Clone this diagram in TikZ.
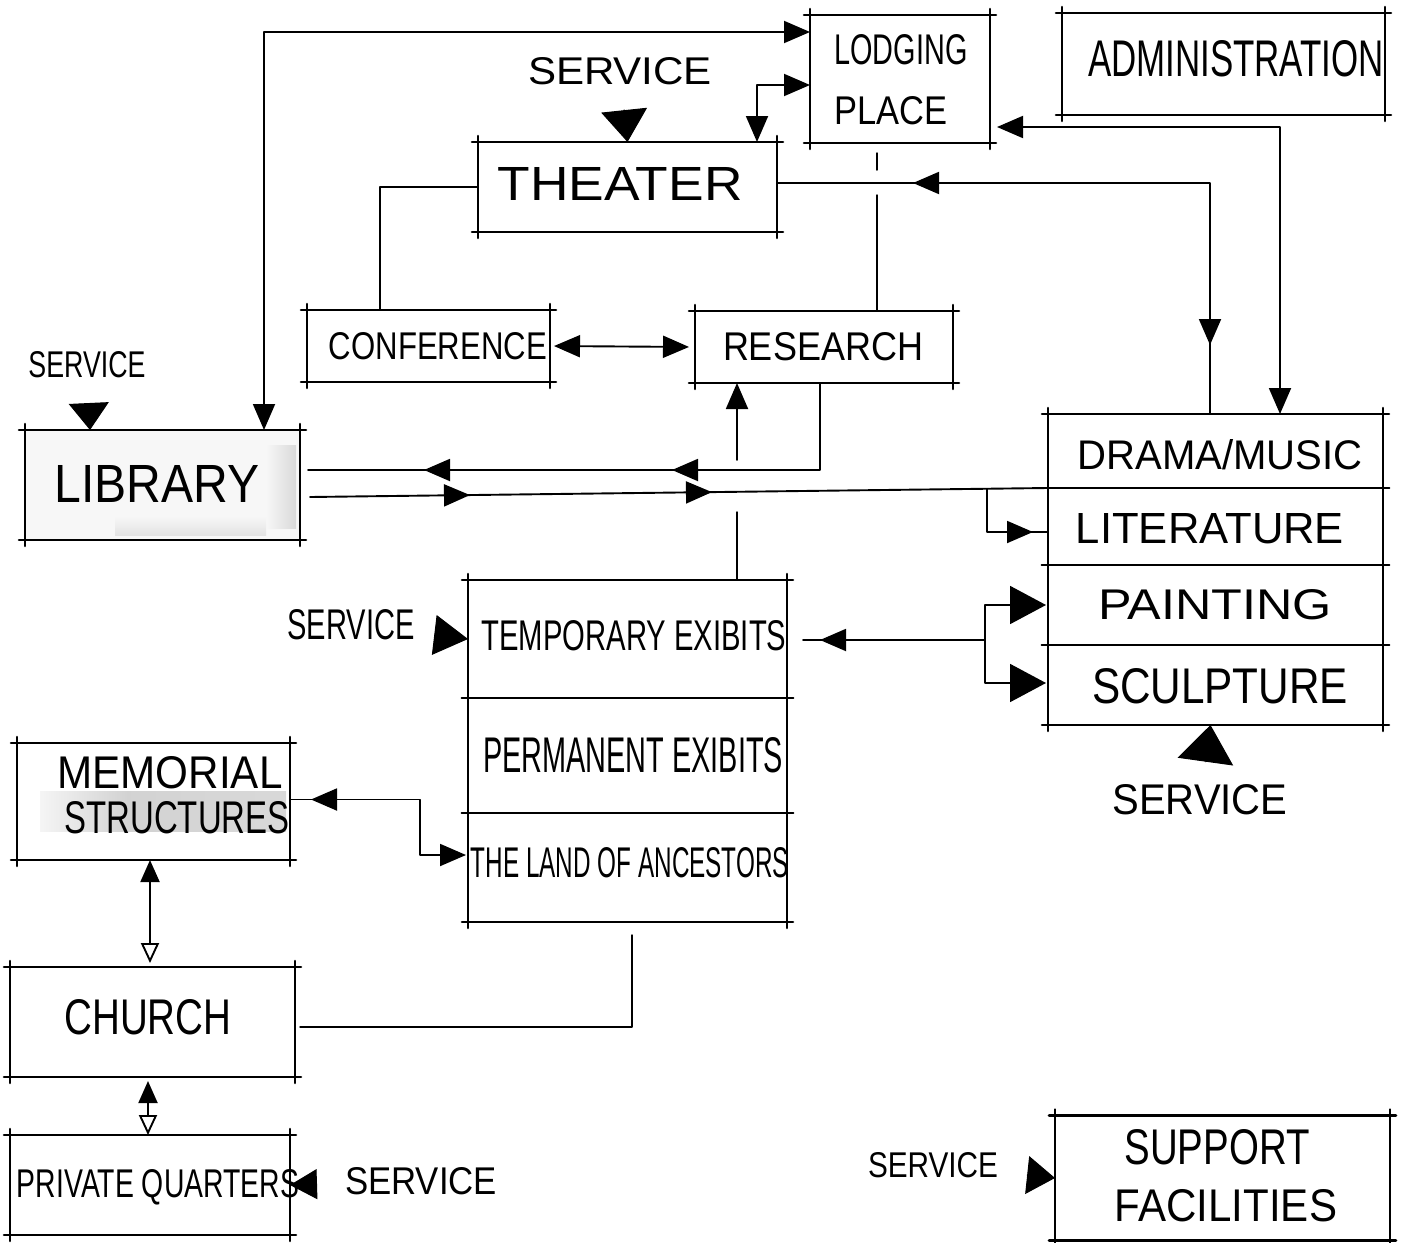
\documentclass[tikz,border=0pt]{standalone}
\usepackage{fontspec}
\setmainfont{Liberation Sans}
\usepackage{graphicx}
\usetikzlibrary{arrows.meta,calc,decorations.markings}

\newcommand{\rs}[3]{\resizebox{#1pt}{#2pt}{#3}}

\tikzset{
  bigtri/.tip={Triangle[length=26pt,width=22pt]},
  smalltri/.tip={Triangle[length=22pt,width=19pt]},
  smallopen/.tip={Triangle[length=20pt,width=18pt,fill=white]},
  >={bigtri},
  box/.style={draw, line width=2.6pt, inner sep=0pt, outer sep=0pt},
  boxline/.style={line width=2.6pt, line cap=round},
  con/.style={line width=1.9pt, line cap=round, line join=round},
  thincon/.style={line width=1.5pt, line cap=round, line join=round},
  txt/.style={inner sep=0pt, outer sep=0pt, anchor=center},
  fwd/.style={postaction={decorate, decoration={markings, mark=at position #1 with {\arrow{bigtri}}}}},
  bwd/.style={postaction={decorate, decoration={markings, mark=at position #1 with {\arrowreversed{bigtri}}}}},
  svc/.style n args={4}{line width=1pt, -{Triangle[length=#1,width=#2]}, shorten <=#3, shorten >=#4},
}

\begin{document}
\begin{tikzpicture}[x=1pt,y=-1pt]
\useasboundingbox (0,0) rectangle (1405,1242);
\fill[white] (0,0) rectangle (1405,1242);

% ---------- boxes ----------
\node[box, minimum width=180pt, minimum height=128pt] (lodge) at (900,79) {};
\node[box, minimum width=323pt, minimum height=102pt] (admin) at (1223.5,64) {};
\node[box, minimum width=299pt, minimum height=90pt] (theater) at (627.5,187) {};
\node[box, minimum width=243pt, minimum height=72pt] (conf) at (428.5,346) {};
\node[box, minimum width=258pt, minimum height=72pt] (research) at (824,347) {};
\node[box, fill=gray!6, minimum width=275pt, minimum height=110pt] (library) at (162.5,485) {};
\node[box, minimum width=335pt, minimum height=74pt] (drama) at (1215.5,451) {};
\node[box, minimum width=335pt, minimum height=77pt] (lit) at (1215.5,526.5) {};
\node[box, minimum width=335pt, minimum height=80pt] (painting) at (1215.5,605) {};
\node[box, minimum width=335pt, minimum height=80pt] (sculpture) at (1215.5,685) {};
\node[box, minimum width=319pt, minimum height=118pt] (temp) at (627.5,639) {};
\node[box, minimum width=319pt, minimum height=115pt] (perm) at (627.5,755.5) {};
\node[box, minimum width=319pt, minimum height=109pt] (land) at (627.5,867.5) {};
\node[box, minimum width=273pt, minimum height=117pt] (memorial) at (153.5,801.5) {};
\node[box, minimum width=285pt, minimum height=110pt] (church) at (152.5,1022) {};
\node[box, minimum width=280pt, minimum height=100pt] (private) at (150,1185) {};
\node[box, minimum width=335pt, minimum height=125pt] (support) at (1222.5,1178) {};

% corner overshoots (sketch look)
\foreach \n in {lodge,admin,theater,conf,research,library,drama,lit,painting,sculpture,temp,perm,land,memorial,church,private,support}{
  \draw[boxline] ($(\n.north west)+(-6,0)$) -- ($(\n.north east)+(6,0)$);
  \draw[boxline] ($(\n.south west)+(-6,0)$) -- ($(\n.south east)+(6,0)$);
  \draw[boxline] ($(\n.north west)+(0,-6)$) -- ($(\n.south west)+(0,6)$);
  \draw[boxline] ($(\n.north east)+(0,-6)$) -- ($(\n.south east)+(0,6)$);
}

% shading (pencil smudges)
\shade[left color=gray!6, right color=gray!30] ($(library.north east)+(-34,15)$) rectangle ($(library.south east)+(-4,-12)$);
\shade[top color=gray!6, bottom color=gray!22] ($(library.south west)+(90,-24)$) rectangle ($(library.south east)+(-34,-5)$);
\shade[left color=gray!8, right color=gray!35] ($(memorial.west)+(23,-10)$) rectangle ($(memorial.west)+(110,30)$);
\shade[left color=gray!35, right color=gray!30] ($(memorial.west)+(110,-10)$) rectangle ($(memorial.east)+(-4,30)$);

% ---------- texts ----------
\node[txt] (tLodge1) at (901,50) {\rs{133}{30}{LODGING}};
\node[txt] (tLodge2) at (891,111) {\rs{113}{28}{PLACE}};
\node[txt] (tAdmin) at (1236,59) {\rs{296}{36}{ADMINISTRATION}};
\node[txt] (svcT) at (620,71) {\rs{184}{27}{SERVICE}};
\node[txt] (tTheater) at (620,184) {\rs{245}{33}{THEATER}};
\node[txt] (tConf) at (438,346) {\rs{218}{27}{CONFERENCE}};
\node[txt] (tResearch) at (823,347) {\rs{200}{28}{RESEARCH}};
\node[txt] (svcL) at (87,365) {\rs{117}{26}{SERVICE}};
\node[txt] (tLibrary) at (157,484) {\rs{205}{37}{LIBRARY}};
\node[txt] (tDrama) at (1220,455) {\rs{285}{30}{DRAMA/MUSIC}};
\node[txt] (tLit) at (1210,529) {\rs{268}{30}{LITERATURE}};
\node[txt] (tPaint) at (1215,605) {\rs{234}{30}{PAINTING}};
\node[txt] (tSculp) at (1220,686) {\rs{256}{35}{SCULPTURE}};
\node[txt] (svcA) at (1200,800) {\rs{175}{30}{SERVICE}};
\node[txt] (tTemp) at (634,636) {\rs{305}{30}{TEMPORARY EXIBITS}};
\node[txt] (tPerm) at (633,755) {\rs{300}{35}{PERMANENT EXIBITS}};
\node[txt] (tLand) at (630,863) {\rs{318}{30}{THE LAND OF ANCESTORS}};
\node[txt] (svcE) at (351,625) {\rs{127}{30}{SERVICE}};
\node[txt] (tMem1) at (170,773) {\rs{225}{32}{MEMORIAL}};
\node[txt] (tMem2) at (177,818) {\rs{225}{32}{STRUCTURES}};
\node[txt] (tChurch) at (148,1017) {\rs{167}{35}{CHURCH}};
\node[txt] (tPrivate) at (158,1187) {\rs{282}{28}{PRIVATE QUARTERS}};
\node[txt] (svcP) at (421,1181) {\rs{152}{27}{SERVICE}};
\node[txt] (svcS) at (933,1165) {\rs{130}{25}{SERVICE}};
\node[txt] (tSup1) at (1217,1147) {\rs{185}{35}{SUPPORT}};
\node[txt] (tSup2) at (1226,1206) {\rs{222}{32}{FACILITIES}};

% ---------- connectors ----------
% library <-> lodging
\draw[con,<->] ($(library.north)+(101.5,0)$) |- ($(lodge.west)+(0,-47)$);
% lodging <-> theater
\draw[con,<->] ($(lodge.west)+(0,6)$) -| ($(theater.north)+(129.5,0)$);
% drama -> theater (arrows in mid line)
\draw[con, bwd=69pt, fwd=528pt] ($(drama.north)+(-5.5,0)$) |- ($(theater.east)+(0,-4)$);
% drama <-> lodging
\draw[con,<->, shorten >=7pt] ($(drama.north)+(64.5,0)$) |- ($(lodge.east)+(0,48)$);
% theater -- conference
\draw[thincon] (theater.west) -| ($(conf.north)+(-48.5,0)$);
% lodging -- research (with crossing gap)
\draw[thincon] ($(lodge.south)+(-23,10)$) -- ($(lodge.south)+(-23,27)$);
\draw[thincon] ($(research.north)+(53,-116)$) -- ($(research.north)+(53,0)$);
% conference <-> research
\draw[con,<->, shorten <=4pt, shorten >=6pt] (conf.east) -- (research.west);
% research -> library
\draw[con, fwd=235pt, fwd=483pt, shorten >=8pt] ($(research.south)+(-4,0)$) |- ($(library.east)+(0,-15)$);
% library -> drama / literature
\draw[con, fwd=160pt, fwd=402pt] ($(library.east)+(10,12)$) -- (drama.south west);
\coordinate (jLit) at (987,489);
\draw[con, fwd=89pt] (jLit) |- ($(lit.west)+(0,5.5)$);
% temporary exhibits -> research (with crossing gap)
\draw[thincon] ($(temp.north)+(109.5,0)$) -- ($(temp.north)+(109.5,-68)$);
\draw[con,->] ($(research.south)+(-87,77)$) -- ($(research.south)+(-87,0)$);
% painting/sculpture <-> temporary exhibits
\coordinate (jArt) at (985,640);
\draw[con, fwd=165pt] (jArt) -- ($(temp.east)+(16,1)$);
\draw[con,-{Triangle[length=36pt,width=38pt]}, shorten >=2pt] (jArt) |- (painting.west);
\draw[con,-{Triangle[length=36pt,width=38pt]}, shorten >=2pt] (jArt) |- ($(sculpture.west)+(0,-2)$);
% memorial <-> land of ancestors
\draw[con, bwd=21pt, ->, shorten >=2pt] ($(memorial.east)+(0,-2)$) -| ($(land.west)+(-48,-12.5)$) -- ($(land.west)+(0,-12.5)$);
% memorial <-> church
\draw[con, {smalltri}-{smallopen}, shorten >=4pt] ($(memorial.south)+(-3.5,0)$) -- ($(church.north)+(-2.5,0)$);
% church <-> private quarters
\draw[con, {smalltri}-{smallopen}, shorten <=4pt] ($(church.south)+(-4.5,0)$) -- ($(private.north)+(-2,0)$);
% church -- land of ancestors
\draw[thincon] ($(church.east)+(5,5)$) -| ($(land.south)+(4.5,13)$);

% ---------- service arrows ----------
\draw[svc={32pt}{46pt}{25pt}{0pt}] (svcT) -- (theater.north);
\draw[svc={27pt}{40pt}{25pt}{0pt}] (svcL) -- ($(library.north west)+(65,0)$);
\draw[svc={34pt}{40pt}{21pt}{0pt}] (svcE) -- (temp.west);
\draw[svc={37pt}{56pt}{23pt}{0pt}] (svcA) -- ($(sculpture.south)+(-5,0)$);
\draw[svc={27pt}{30pt}{28pt}{0pt}] (svcP) -- (private.east);
\draw[svc={28pt}{38pt}{29pt}{0pt}] (svcS) -- (support.west);
\end{tikzpicture}
\end{document}
